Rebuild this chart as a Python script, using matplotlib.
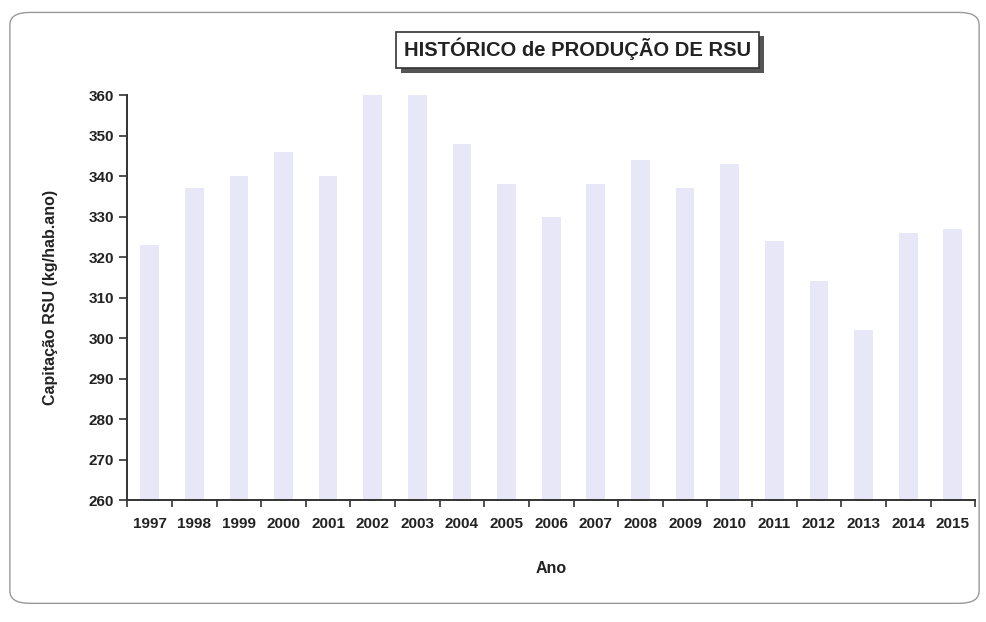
import matplotlib
matplotlib.use("Agg")
import matplotlib.pyplot as plt
import numpy as np
from matplotlib.patches import FancyBboxPatch

anos = [str(a) for a in range(1997, 2016)]
capitacao = [323, 337, 340, 346, 340, 360, 360, 348, 338, 330, 338,
             344, 337, 343, 324, 314, 302, 326, 327]
y_ticks = list(range(260, 361, 10))

fam = ["Liberation Sans Narrow", "Liberation Sans", "DejaVu Sans"]
plt.rcParams.update({"font.family": fam, "font.weight": "bold"})

fig = plt.figure(figsize=(9.87, 6.22), dpi=100)
ax = fig.add_axes([0.129, 0.196, 0.859, 0.651])

x = np.arange(len(anos))
ax.bar(x, capitacao, width=0.42, color="#E7E7F8")
ax.set_xlim(-0.5, len(anos) - 0.5)
ax.set_ylim(260, 360)
ax.set_yticks(y_ticks)
ax.set_xticks(x)
ax.set_xticklabels(anos, fontsize=11, fontweight="bold", color="#222222")
ax.set_xticks(np.arange(-0.5, len(anos), 1), minor=True)
ax.tick_params(axis="x", which="major", length=0, pad=12)
ax.tick_params(axis="x", which="minor", length=5, width=1.2, color="#333333", direction="out")
ax.tick_params(axis="y", length=6, width=1.2, color="#333333", labelsize=11, labelcolor="#222222")
for lab in ax.get_yticklabels():
    lab.set_fontweight("bold")
for s in ["top", "right"]:
    ax.spines[s].set_visible(False)
for s in ["left", "bottom"]:
    ax.spines[s].set_color("#333333")
    ax.spines[s].set_linewidth(1.4)

ax.set_ylabel("Capitação RSU (kg/hab.ano)", fontsize=11.5, fontweight="bold", labelpad=22, color="#222222")
ax.set_xlabel("Ano", fontsize=11.5, fontweight="bold", labelpad=22, color="#222222")

# caixa do titulo com sombra
fig.patches.append(plt.Rectangle((0.406, 0.882), 0.368, 0.060, transform=fig.transFigure,
                                 facecolor="#555555", edgecolor="none"))
fig.patches.append(plt.Rectangle((0.401, 0.890), 0.368, 0.058, transform=fig.transFigure,
                                 facecolor="white", edgecolor="#333333", linewidth=1.2))
fig.text(0.585, 0.921, "HISTÓRICO de PRODUÇÃO DE RSU", ha="center", va="center",
         fontsize=14.5, fontweight="bold", color="#222222")

# moldura arredondada exterior
fig.patches.append(FancyBboxPatch((0.010, 0.030), 0.982, 0.950, boxstyle="round,pad=0,rounding_size=0.02",
                                  transform=fig.transFigure, facecolor="none", edgecolor="#999999", linewidth=1.0))

fig.savefig("out.png", dpi=100, facecolor="white")
